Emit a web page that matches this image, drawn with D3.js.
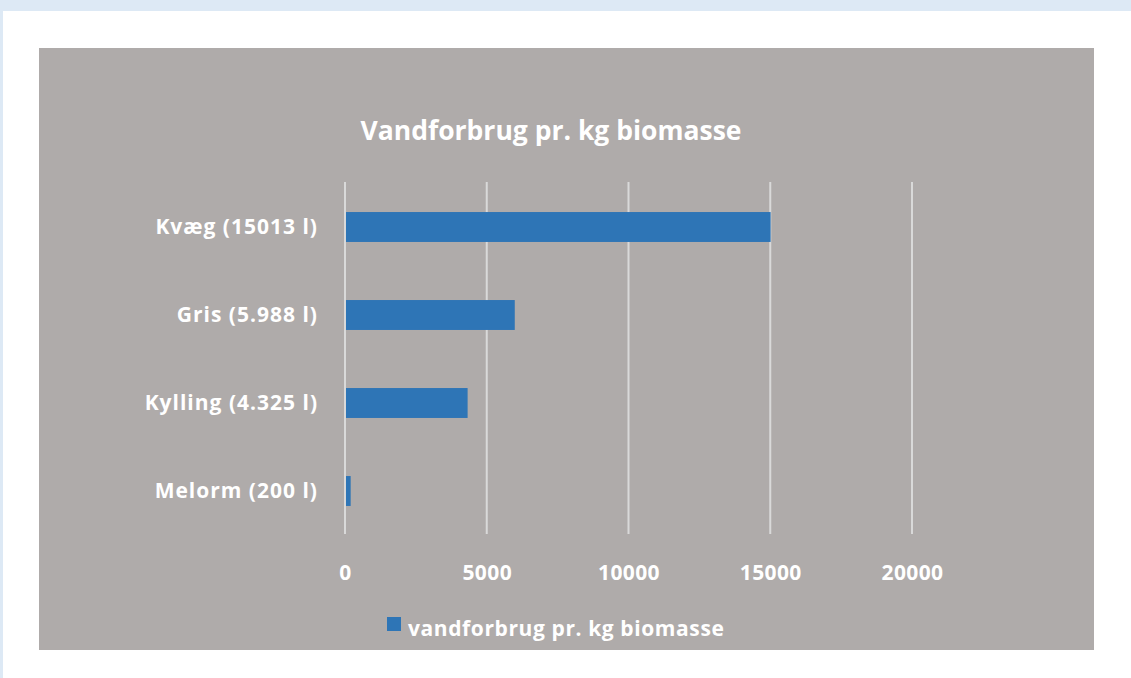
<!DOCTYPE html>
<html>
<head>
<meta charset="utf-8">
<script src="https://cdn.jsdelivr.net/npm/d3@7"></script>
<style>
  body { margin: 0; background: #dde9f5; }
  #page { position: absolute; left: 3px; top: 11px; width: 1128px; height: 667px; background: #fff; }
  svg { position: absolute; left: 0; top: 0; }
</style>
</head>
<body>
<div id="page"></div>
<svg id="chart" width="1131" height="678"></svg>
<script>
// chart data
var categories = ["Kvæg (15013 l)", "Gris (5.988 l)", "Kylling (4.325 l)", "Melorm (200 l)"];
var values = [15013, 5988, 4325, 200];
var ticks = [0, 5000, 10000, 15000, 20000];
var seriesName = "vandforbrug pr. kg biomasse";

var data = categories.map(function(c, i) { return {cat: c, val: values[i]}; });

var svg = d3.select("#chart");
var font = "'Open Sans', sans-serif";

// gray chart area
svg.append("rect")
  .attr("x", 39).attr("y", 48)
  .attr("width", 1055).attr("height", 602)
  .style("fill", "#afabaa");

var x = d3.scaleLinear().domain([0, 20000]).range([345, 912]);
var y = d3.scaleBand().domain(categories).range([183, 535]).paddingInner(0.66).paddingOuter(0.33);

// gridlines
svg.append("g").selectAll("line")
  .data(ticks)
  .enter().append("line")
    .attr("x1", d => x(d)).attr("x2", d => x(d))
    .attr("y1", 182).attr("y2", 534)
    .style("stroke", "#d9d9d9")
    .style("stroke-width", 2);

// bars
svg.append("g").selectAll("rect")
  .data(data)
  .enter().append("rect")
    .attr("x", x(0) + 1)
    .attr("y", d => y(d.cat))
    .attr("width", d => x(d.val) - x(0) - 1)
    .attr("height", y.bandwidth())
    .style("fill", "#2e75b6");

// x axis labels
svg.append("g")
  .attr("transform", "translate(0,580)")
  .call(d3.axisBottom(x).tickValues(ticks).tickSize(0).tickPadding(0).tickFormat(d3.format("d")))
  .call(g => g.select(".domain").remove())
  .selectAll("text")
    .attr("dy", 0)
    .style("font-family", font)
    .style("font-size", "21px")
    .style("font-weight", "bold")
    .style("letter-spacing", "0.4px")
    .style("fill", "#fff");

// y axis labels
svg.append("g")
  .attr("transform", "translate(318,0)")
  .call(d3.axisLeft(y).tickSize(0).tickPadding(0))
  .call(g => g.select(".domain").remove())
  .selectAll("text")
    .attr("dy", "0.35em")
    .style("font-family", font)
    .style("font-size", "21px")
    .style("font-weight", "bold")
    .style("letter-spacing", "1px")
    .style("fill", "#fff");

// title
svg.append("text")
  .attr("x", 551).attr("y", 140)
  .attr("text-anchor", "middle")
  .style("font-family", font)
  .style("font-size", "26.5px")
  .style("font-weight", "bold")
  .style("fill", "#fff")
  .text("Vandforbrug pr. kg biomasse");

// legend
svg.append("rect")
  .attr("x", 387).attr("y", 617)
  .attr("width", 14).attr("height", 14)
  .style("fill", "#2e75b6");
svg.append("text")
  .attr("x", 408).attr("y", 636)
  .style("font-family", font)
  .style("font-size", "21px")
  .style("font-weight", "bold")
  .style("letter-spacing", "0.6px")
  .style("fill", "#fff")
  .text(seriesName);
</script>
</body>
</html>
